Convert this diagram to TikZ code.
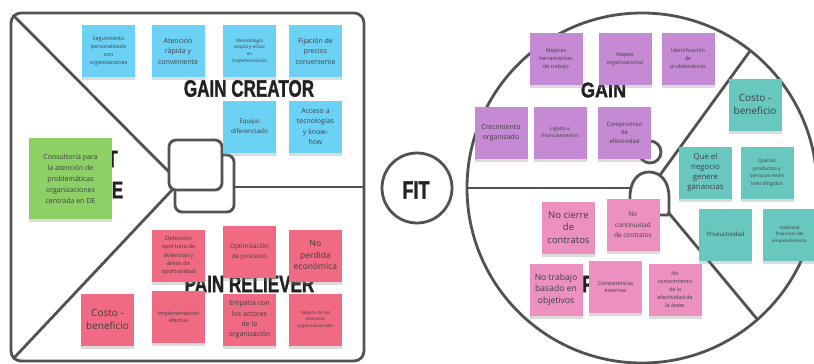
\documentclass[tikz,border=0pt]{standalone}
\usepackage{fontspec}
\setmainfont{Open Sans}
\newfontfamily\titlefont{Liberation Sans}[BoldFeatures={FakeBold=1.6}]
\usetikzlibrary{shadows}

\definecolor{lineg}{RGB}{82,82,82}
\definecolor{titleg}{RGB}{34,34,34}
\definecolor{notetext}{RGB}{62,62,62}
\definecolor{noteblue}{RGB}{108,210,245}
\definecolor{notegreen}{RGB}{140,208,102}
\definecolor{notered}{RGB}{240,106,132}
\definecolor{notepurple}{RGB}{198,138,212}
\definecolor{notepink}{RGB}{236,144,192}
\definecolor{noteteal}{RGB}{104,200,192}

\tikzset{
  note/.style={minimum width=53pt, minimum height=52pt, inner sep=1pt, align=center,
    text=notetext, drop shadow={shadow xshift=0pt, shadow yshift=-3pt, opacity=.28}},
  bluenote/.style={note, fill=noteblue},
  greennote/.style={note, fill=notegreen, minimum width=83pt, minimum height=81pt},
  rednote/.style={note, fill=notered},
  purplenote/.style={note, fill=notepurple},
  pinknote/.style={note, fill=notepink},
  tealnote/.style={note, fill=noteteal},
  fxs/.style={font=\fontsize{4.6}{6.6}\selectfont},
  fsm/.style={font=\fontsize{5.4}{7.8}\selectfont},
  fmd/.style={font=\fontsize{6.3}{9.6}\selectfont},
  fnm/.style={font=\fontsize{7}{10.4}\selectfont},
  flg/.style={font=\fontsize{8.5}{11.5}\selectfont},
  fxl/.style={font=\fontsize{10}{13.5}\selectfont},
  bigword/.style={text=titleg, inner sep=0pt, font=\titlefont\bfseries\fontsize{23.7}{24}\selectfont},
  canvasline/.style={draw=lineg, line width=2.8pt, line join=round},
}

\begin{document}
\begin{tikzpicture}[x=1pt,y=-1pt]
    \useasboundingbox[fill=white] (0,0) rectangle (814,364);

    % value map (left square)
    \draw[canvasline, rounded corners=10pt] (11,13) rectangle (364,361);
    \coordinate (tl) at (13,15);
    \coordinate (bl) at (13,359);
    \coordinate (gifttop) at (170,173);
    \coordinate (giftbot) at (173,189);
    \coordinate (giftright) at (234,187);
    \coordinate (sqright) at (364,187);
    \draw[canvasline] (tl) -- (gifttop);
    \draw[canvasline] (bl) -- (giftbot);
    \draw[canvasline] (giftright) -- (sqright);
    \draw[canvasline, rounded corners=7pt] (175,155) rectangle (234,212);
    \draw[canvasline, fill=white, rounded corners=7pt] (169,140) rectangle (222,190);

    % FIT
    \draw[canvasline] (417,188) circle[radius=35pt];
    \node[bigword, font=\titlefont\bfseries\fontsize{25}{25}\selectfont] (fit) at (416,190) {\scalebox{0.72}[1]{FIT}};

    % customer profile (right circle)
    \draw[canvasline] (642,188) circle[radius=175pt];
    \coordinate (cl) at (467,188);
    \coordinate (bodyleft) at (631,188);
    \coordinate (bodytop) at (660,175);
    \coordinate (bodybot) at (668,212);
    \coordinate (upend) at (750,51);
    \coordinate (lowend) at (757,319);
    \draw[canvasline] (cl) -- (bodyleft);
    \draw[canvasline] (bodytop) -- (upend);
    \draw[canvasline] (bodybot) -- (lowend);
    \draw[canvasline] (630,215) -- (630,197) .. controls (630,181) and (638,172) .. (649,172)
        .. controls (661,172) and (669,182) .. (669,197) -- (669,215) -- cycle;
    \draw[canvasline] (650,152) circle[radius=11pt];

    % big words
    \node[bigword] (gaincr) at (249,88.5) {\scalebox{0.72}[1]{GAIN CREATOR}};
    \node[bigword] (painrel) at (249.5,284) {\scalebox{0.72}[1]{PAIN RELIEVER}};
    \node[bigword] (lettert) at (112.5,159) {\scalebox{0.72}[1]{T}};
    \node[bigword] (lettere) at (117.5,190) {\scalebox{0.72}[1]{E}};
    \node[bigword, font=\titlefont\bfseries\fontsize{21}{21}\selectfont] (gain) at (603.5,90) {\scalebox{0.86}[1]{GAIN}};
    \node[bigword] (letterp) at (588,284) {\scalebox{0.72}[1]{P}};

    % gain creators
    \node[bluenote, fsm] (seguim) at (108.5,51) {Seguimiento\\personalizado\\con\\organizaciones};
    \node[bluenote, fnm] (atencion) at (178,51) {Atención\\rápida y\\conveniente};
    \node[bluenote, fxs] (metodo) at (249.5,51) {Metodología\\propia y eficaz\\en\\implementación};
    \node[bluenote, fnm] (fijacion) at (315.5,51) {Fijación de\\precios\\conveniente};
    \node[bluenote, fmd] (equipo) at (249.5,126.5) {Equipo\\diferenciado};
    \node[bluenote, fnm] (acceso) at (315.5,126.5) {Acceso a\\tecnologías\\y know-\\how};

    % product
    \node[greennote, fnm, font=\fontsize{7}{11}\selectfont] (consult) at (70.5,178.5) {Consultoría para\\la atención de\\problemáticas\\organizaciones\\centrada en DE};

    % pain relievers
    \node[rednote, fsm, font=\fontsize{5.8}{8.2}\selectfont] (deteccion) at (178.5,255.5) {Detección\\oportuna de\\dolencias y\\áreas de\\oportunidad};
    \node[rednote, fmd] (optimiz) at (249.5,252) {Optimización\\de procesos};
    \node[rednote, flg] (noperdida) at (315.5,255.5) {No\\perdida\\económica};
    \node[rednote, fxl] (costo) at (107.5,319.5) {Costo -\\beneficio};
    \node[rednote, fsm] (implem) at (178.5,317) {Implementación\\efectiva};
    \node[rednote, fnm] (empatia) at (249.5,319.5) {Empatia con\\los actores\\de la\\organización};
    \node[rednote, fxs] (mejora) at (315.5,319.5) {Mejora de los\\procesos\\organiuacionales};

    % gains
    \node[purplenote, fsm] (mejores) at (556,59) {Mejores\\herramientas\\de trabajo};
    \node[purplenote, fsm] (mapeo) at (625,59) {Mapeo\\organizacional};
    \node[purplenote, fsm] (identif) at (688,59) {Identificación\\de\\problemáticas};
    \node[purplenote, fnm] (crecim) at (501,132.5) {Crecimiento\\organizado};
    \node[purplenote, fxs, font=\fontsize{5}{7}\selectfont] (ligado) at (560,132.5) {Ligado a\\financiamientos};
    \node[purplenote, fsm, font=\fontsize{5.9}{8.5}\selectfont] (comprom) at (624.5,132.5) {Compromiso\\de\\efectividad};

    % jobs
    \node[tealnote, fxl] (costob) at (755,104.5) {Costo -\\beneficio};
    \node[tealnote, flg, font=\fontsize{7.8}{10.3}\selectfont] (negocio) at (705.5,172.5) {Que el\\negocio\\genere\\ganancias};
    \node[tealnote, fxs, font=\fontsize{5}{7.6}\selectfont] (productos) at (767,172.5) {Que los\\productos y\\servicios estén\\bien dirigidos};
    \node[tealnote, fmd, font=\fontsize{5.9}{8}\selectfont] (productiv) at (725.5,234.5) {Productividad};
    \node[tealnote, fxs, font=\fontsize{4.4}{6.4}\selectfont] (viabil) at (789.5,234.5) {Viabilidad\\financiera del\\emprendimiento};

    % pains
    \node[pinknote, fxl, font=\fontsize{9.5}{12.5}\selectfont] (nocierre) at (568.5,227.5) {No cierre\\de\\contratos};
    \node[pinknote, fmd, font=\fontsize{6.4}{10.5}\selectfont] (nocontin) at (633,225) {No\\continuidad\\de contratos};
    \node[pinknote, flg, font=\fontsize{8.6}{11.3}\selectfont] (notrabajo) at (556,289.5) {No trabajo\\basado en\\objetivos};
    \node[pinknote, fsm] (competen) at (615.5,287) {Competencias\\externas};
    \node[pinknote, fsm] (noconoc) at (675,289.5) {No\\conocimiento\\de la\\efectividad de\\la áreas};
\end{tikzpicture}
\end{document}
